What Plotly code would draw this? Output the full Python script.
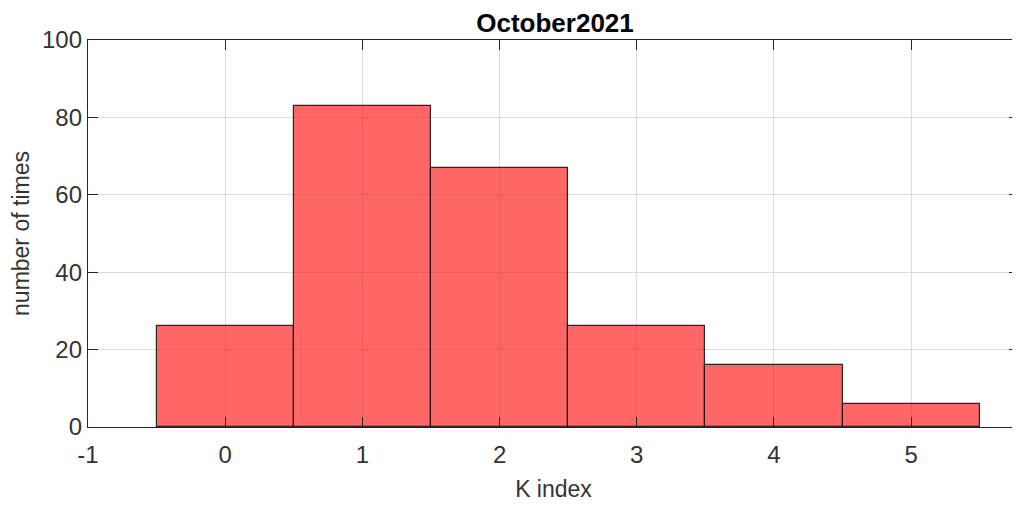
import plotly.graph_objects as go

# K index histogram counts
k_index = [0, 1, 2, 3, 4, 5]
counts = [26, 83, 67, 26, 16, 6]
x_ticks = [-1, 0, 1, 2, 3, 4, 5]
x_labels = ["-1", "0", "1", "2", "3", "4", "5"]
y_ticks = [0, 20, 40, 60, 80, 100]

FONT = "Liberation Sans, Arial"
TXT = "#333333"

# page body has an 8px margin, so the figure is a bit smaller than the window
W, H = 1012, 499

fig = go.Figure(
    go.Bar(
        x=k_index,
        y=counts,
        width=1,
        marker=dict(color="rgba(255,0,0,0.6)", line=dict(color="rgba(20,20,20,0.9)", width=1.2)),
    )
)

axis_style = dict(
    showline=True,
    linecolor="#262626",
    linewidth=1.3,
    mirror="ticks",
    ticks="inside",
    ticklen=10,
    tickcolor="#262626",
    showgrid=True,
    gridcolor="#dcdcdc",
    gridwidth=1,
    zeroline=False,
    automargin=False,
    tickfont=dict(family=FONT, size=24, color=TXT),
)

fig.update_xaxes(
    axis_style,
    range=[-1, 5.786],
    tickvals=x_ticks,
    ticktext=x_labels,
    ticklabelstandoff=6,
    title=dict(text="K index", font=dict(family=FONT, size=23, color=TXT), standoff=13),
)
fig.update_yaxes(
    axis_style,
    range=[0, 100],
    tickvals=y_ticks,
    ticklabelstandoff=0,
    title=dict(text="number of times", font=dict(family=FONT, size=23, color=TXT), standoff=12),
)

fig.update_layout(
    width=W,
    height=H,
    margin=dict(l=80, r=1, t=32, b=80),
    plot_bgcolor="white",
    paper_bgcolor="white",
    showlegend=False,
    bargap=0,
    title=dict(
        text="October2021",
        x=547 / W,
        xanchor="center",
        xref="container",
        y=1 - 15 / H,
        yanchor="middle",
        yref="container",
        font=dict(family=FONT, size=26, color="black", weight="bold"),
    ),
)

fig.write_html("out.html")
